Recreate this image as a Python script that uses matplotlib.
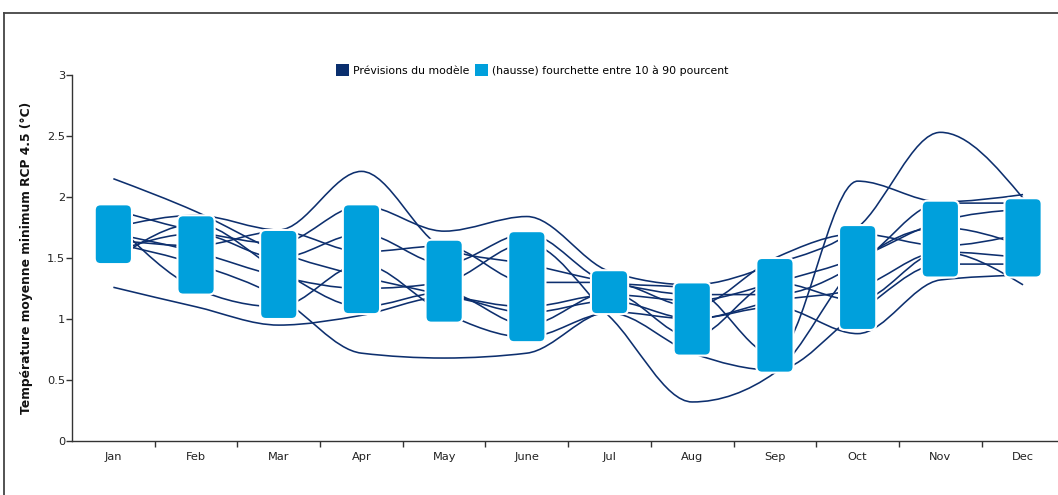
import numpy as np
import matplotlib
matplotlib.use("Agg")
import matplotlib.pyplot as plt
from matplotlib.path import Path
from matplotlib.patches import PathPatch, FancyBboxPatch, Patch
from matplotlib.lines import Line2D

months = ["Jan", "Feb", "Mar", "Apr", "May", "June", "Jul", "Aug", "Sep", "Oct", "Nov", "Dec"]

# fourchette 10-90 %
p10 = [1.45, 1.20, 1.00, 1.04, 0.97, 0.81, 1.04, 0.70, 0.56, 0.91, 1.34, 1.34]
p90 = [1.94, 1.85, 1.73, 1.94, 1.65, 1.72, 1.40, 1.30, 1.50, 1.77, 1.97, 1.99]

# previsions des modeles
model_a = [2.15, 1.88, 1.55, 1.35, 1.20, 1.10, 1.20, 1.15, 1.30, 1.50, 1.80, 1.90]
model_b = [1.26, 1.10, 0.95, 1.03, 1.18, 1.05, 1.15, 1.00, 1.10, 0.88, 1.32, 1.36]
model_c = [1.75, 1.85, 1.73, 2.21, 1.58, 1.45, 1.30, 1.20, 1.20, 1.45, 1.95, 1.95]
model_d = [1.62, 1.45, 1.18, 0.72, 0.68, 0.72, 1.06, 1.00, 1.15, 1.25, 1.55, 1.50]
model_e = [1.70, 1.55, 1.35, 1.25, 1.30, 1.62, 1.02, 0.32, 0.56, 1.45, 1.75, 1.60]
model_f = [1.55, 1.70, 1.50, 1.70, 1.45, 1.70, 1.30, 1.25, 0.70, 2.13, 1.96, 2.02]
model_g = [1.90, 1.72, 1.62, 1.93, 1.72, 1.84, 1.39, 1.28, 1.45, 1.75, 2.53, 1.99]
model_h = [1.48, 1.78, 1.40, 1.10, 1.22, 0.95, 1.22, 0.85, 1.30, 1.15, 1.55, 1.28]
model_i = [1.80, 1.25, 1.10, 1.45, 1.05, 0.85, 1.05, 0.72, 0.58, 1.05, 1.45, 1.45]
model_j = [1.65, 1.60, 1.72, 1.55, 1.60, 1.30, 1.30, 1.10, 1.50, 1.70, 1.60, 1.70]
models = [model_a, model_b, model_c, model_d, model_e, model_f, model_g, model_h, model_i, model_j]

navy = "#0d2f6e"
cyan = "#00a0dc"


def monotone_path(xs, ys):
    # courbe monotone (comme d3.curveMonotoneX) en segments de Bezier
    xs = np.asarray(xs, float)
    ys = np.asarray(ys, float)
    h = np.diff(xs)
    s = np.diff(ys) / h
    n = len(xs)
    t = np.zeros(n)
    for i in range(1, n - 1):
        p = (s[i - 1] * h[i] + s[i] * h[i - 1]) / (h[i - 1] + h[i])
        t[i] = (np.sign(s[i - 1]) + np.sign(s[i])) * min(abs(s[i - 1]), abs(s[i]), 0.5 * abs(p))
    t[0] = (3 * s[0] - t[1]) / 2
    t[-1] = (3 * s[-1] - t[-2]) / 2
    verts = [(xs[0], ys[0])]
    codes = [Path.MOVETO]
    for i in range(n - 1):
        dx = h[i] / 3
        verts += [(xs[i] + dx, ys[i] + dx * t[i]),
                  (xs[i + 1] - dx, ys[i + 1] - dx * t[i + 1]),
                  (xs[i + 1], ys[i + 1])]
        codes += [Path.CURVE4] * 3
    return Path(verts, codes)


fig = plt.figure(figsize=(10.58, 4.95), dpi=100)
ax = fig.add_axes([72 / 1058, 54 / 495, 986 / 1058, 366 / 495])

x = np.arange(1, 13)
for m in models:
    ax.add_patch(PathPatch(monotone_path(x, m), facecolor="none", edgecolor=navy, lw=1.15, zorder=2))

w = 0.45
for xi, lo, hi in zip(x, p10, p90):
    ax.add_patch(FancyBboxPatch((xi - w / 2, lo), w, hi - lo,
                                boxstyle="round,pad=0,rounding_size=0.07",
                                mutation_aspect=0.68, facecolor=cyan,
                                edgecolor="white", lw=1.5, zorder=3))

ax.set_xlim(0.5, 0.5 + 986 / 82.7)
ax.set_ylim(0, 3)
ax.spines["top"].set_visible(False)
ax.spines["right"].set_visible(False)
for sp in ["left", "bottom"]:
    ax.spines[sp].set_color("#333333")
    ax.spines[sp].set_linewidth(1.0)

ax.set_xticks(np.arange(1.5, 12, 1))
ax.set_xticklabels([])
ax.set_xticks(x, minor=True)
ax.set_xticklabels(months, minor=True, fontsize=8.2, color="#222222")
ax.tick_params(axis="x", which="major", length=4, width=1, color="#333333", direction="out")
ax.tick_params(axis="x", which="minor", length=0, pad=8)

ax.set_yticks([0, 0.5, 1, 1.5, 2, 2.5, 3])
ax.set_yticklabels(["0", "0.5", "1", "1.5", "2", "2.5", "3"], fontsize=8.2, color="#222222")
ax.tick_params(axis="y", length=4, width=1, color="#333333", pad=1)

fig.text(27 / 1058, (495 - 258) / 495, "Température moyenne minimum RCP 4.5 (°C)",
         rotation=90, ha="center", va="center", fontsize=8.8, fontweight="bold", color="#111111")

handles = [Patch(facecolor="#0a2f6e", edgecolor="none"), Patch(facecolor=cyan, edgecolor="none")]
fig.legend(handles, ["Prévisions du modèle", "(hausse) fourchette entre 10 à 90 pourcent"],
           loc="center", bbox_to_anchor=(532 / 1058, 1 - 70 / 495), ncol=2, frameon=False,
           handlelength=1.2, handleheight=1.2, handletextpad=0.4, columnspacing=0.5,
           fontsize=7.8)

# cadre
fig.add_artist(Line2D([4 / 1058, 4 / 1058], [0, 1 - 13 / 495], color="#444444", lw=1.3))
fig.add_artist(Line2D([4 / 1058, 1], [1 - 13 / 495, 1 - 13 / 495], color="#444444", lw=1.3))

fig.savefig("out.png", dpi=100)
